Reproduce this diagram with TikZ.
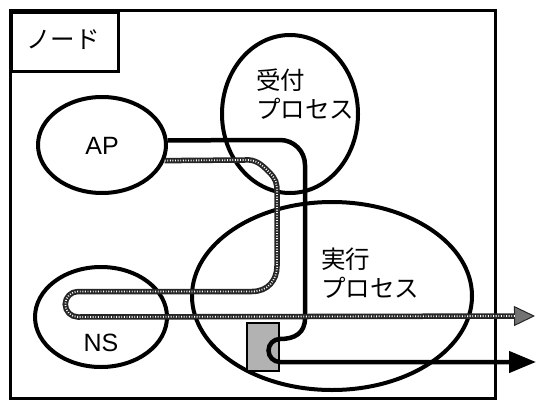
\documentclass[tikz,border=0pt]{standalone}
\usepackage{fontspec}
\setmainfont{Liberation Sans}
\newfontfamily\jp{Noto Sans CJK JP}
\usetikzlibrary{arrows.meta,shapes.geometric}
\begin{document}
\begin{tikzpicture}[x=1pt,y=-1pt,
  ell/.style={ellipse, draw, line width=4pt, inner sep=0pt},
  latin/.style={font=\fontsize{25}{25}\selectfont},
  jtext/.style={font=\jp\fontsize{24.5}{28.5}\selectfont, align=left, inner sep=0pt},
  blk/.style={draw=black, line width=4.5pt},
  gry/.style={draw=black!85, line width=5.5pt,
    -{Triangle[length=21pt,width=20pt,fill=black!55,line width=1pt]},
    postaction={draw=white, line width=1.8pt, dash pattern=on 0.9pt off 1.7pt, arrows=-, shorten >=20pt}},
  boxline/.style={draw=black, line width=3pt}]
\useasboundingbox (0,0) rectangle (537,401);
% node frame and title box
\draw[boxline] (10,11) rectangle (495,398);
\node[boxline, minimum width=107pt, minimum height=59pt, anchor=north west, inner sep=0pt] (title) at (10,11) {};
\node[jtext] (titletext) at (63,40) {ノード};
% ellipses
\node[ell, minimum width=128pt, minimum height=96pt] (ap) at (102,145) {};
\node[latin] (aptext) at (102,146) {AP};
\node[ell, minimum width=136pt, minimum height=158pt] (uke) at (290,114) {};
\node[jtext, anchor=west] (uketext) at (256,94) {受付\\プロセス};
\node[ell, minimum width=280pt, minimum height=188pt] (jik) at (332,296) {};
\node[jtext, anchor=west] (jiktext) at (321,273) {実行\\プロセス};
\node[ell, minimum width=132pt, minimum height=100pt] (ns) at (101,317) {};
\node[latin] (nstext) at (101,343) {NS};
% shaded box
\node[draw=black, line width=1.5pt, fill=black!30, minimum width=32pt, minimum height=48pt, inner sep=0pt] (sock) at (263,347) {};
% endpoints
\coordinate (bout) at (536,362);
\coordinate (gout) at (535,316);
% black connector
\draw[blk, -{Triangle[length=27pt,width=21pt]}]
  (ap.4.5) -- (280,140) arc[start angle=270, end angle=360, radius=25]
  -- (305,318) .. controls (305,333) and (295,339) .. (280,339)
  arc[start angle=270, end angle=90, radius=11.5] -- (bout);
% gray connector
\draw[gry]
  (ap.-14) -- (245,160) .. controls (256,159) and (262,165) .. (269,172)
  .. controls (276,179) and (277,183) .. (277,192) -- (277,266)
  .. controls (277,280) and (268,291.5) .. (252,291.5) -- (78,291.5)
  arc[start angle=270, end angle=90, radius=12.75] -- (gout);
\end{tikzpicture}
\end{document}
